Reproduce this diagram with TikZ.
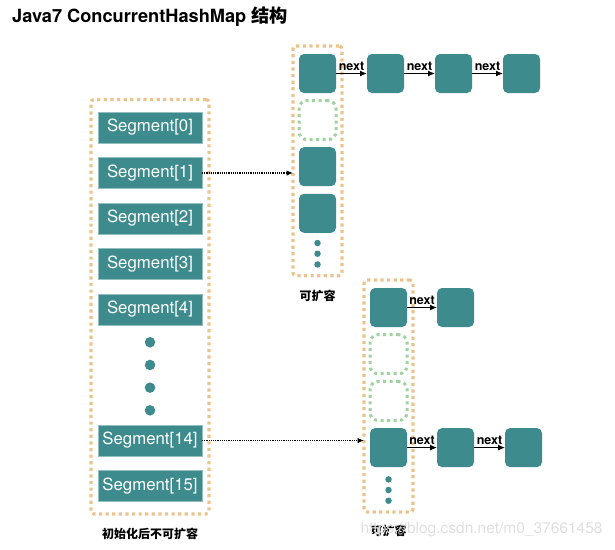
\documentclass[tikz,border=0pt]{standalone}
\usepackage{fontspec}
\setmainfont{TeX Gyre Heros}
\newfontfamily\cjk{Noto Sans CJK SC}
\usetikzlibrary{positioning,fit,arrows.meta}

\definecolor{segteal}{HTML}{3D8B8C}
\definecolor{bucketorange}{HTML}{EBC38C}
\definecolor{emptygreen}{HTML}{A0D2A0}

\tikzset{
  segment/.style={fill=segteal, draw=segteal!55!white, line width=0.6pt, outer sep=0pt,
    minimum width=104pt, minimum height=31pt, inner sep=0pt, text=white,
    font=\fontsize{16.8}{18}\selectfont},
  entry/.style={fill=segteal, rounded corners=5pt, outer sep=0pt,
    minimum width=37pt, minimum height=39pt, inner sep=0pt},
  emptyentry/.style={draw=emptygreen, line width=3pt, dash pattern=on 3pt off 3.5pt,
    rounded corners=8pt, outer sep=0pt, minimum width=37pt, minimum height=39pt, inner sep=0pt},
  bucket/.style={draw=bucketorange, line width=3.2pt, dash pattern=on 3.2pt off 3.4pt,
    rounded corners=3pt, outer sep=0pt},
  bigdot/.style={circle, fill=segteal, minimum size=10.5pt, inner sep=0pt, outer sep=0pt},
  smalldot/.style={circle, fill=segteal, minimum size=6.5pt, inner sep=0pt, outer sep=0pt},
  nextlink/.style={-{Latex[length=7pt,width=6pt]}, line width=1.1pt},
  nextlabel/.style={above, inner sep=2pt, font=\bfseries\fontsize{12.5}{12}\selectfont},
  pointer/.style={-{Latex[length=6.5pt,width=5.5pt]}, line width=1.1pt, dash pattern=on 1.1pt off 1.1pt},
  caption/.style={inner sep=0pt, font=\cjk\bfseries\fontsize{12}{12}\selectfont},
}

\begin{document}
\begin{tikzpicture}[x=1pt, y=-1pt]
  \useasboundingbox (0,0) rectangle (615,549);

  \node [anchor=base west, inner sep=0pt, font=\bfseries\fontsize{18.2}{18}\selectfont]
    (title) at (12,22) {Java7 ConcurrentHashMap {\cjk 结构}};

  % segment array, fixed size
  \node [segment] (s0) at (150,127.5) {Segment[0]};
  \node [segment, below=14.5pt of s0] (s1) {Segment[1]};
  \node [segment, below=14.5pt of s1] (s2) {Segment[2]};
  \node [segment, below=14.5pt of s2] (s3) {Segment[3]};
  \node [segment, below=14.5pt of s3] (s4) {Segment[4]};
  \node [bigdot, below=12pt of s4] (d1) {};
  \node [bigdot, below=12.2pt of d1] (d2) {};
  \node [bigdot, below=12.2pt of d2] (d3) {};
  \node [bigdot, below=12.2pt of d3] (d4) {};
  \node [segment, below=9.4pt of d4] (s14) {Segment[14]};
  \node [segment, below=14.5pt of s14] (s15) {Segment[15]};
  \node [bucket, inner xsep=7pt, inner ysep=12.5pt, fit=(s0)(s15)] (lbox) {};
  \node [caption, below=13.5pt of lbox] (lcap) {初始化后不可扩容};

  % table of Segment[1]
  \node [entry] (t0) at (317.5,73.5) {};
  \node [emptyentry, below=7.6pt of t0] (t1) {};
  \node [entry, below=7.6pt of t1] (t2) {};
  \node [entry, below=7.6pt of t2] (t3) {};
  \node [smalldot, below=7pt of t3] (td1) {};
  \node [smalldot, below=4.2pt of td1] (td2) {};
  \node [smalldot, below=4.2pt of td2] (td3) {};
  \node [bucket, inner xsep=6pt, inner ysep=8pt, fit=(t0)(td3)] (tbox) {};
  \node [caption, below=14pt of tbox] (tcap) {可扩容};

  \node [entry, right=31pt of t0] (n1) {};
  \node [entry, right=31pt of n1] (n2) {};
  \node [entry, right=31pt of n2] (n3) {};

  % table of Segment[14]
  \node [entry] (b0) at (388.5,307.5) {};
  \node [emptyentry, below=7.7pt of b0] (b1) {};
  \node [emptyentry, below=7.7pt of b1] (b2) {};
  \node [entry, below=7.7pt of b2] (b3) {};
  \node [smalldot, below=9pt of b3] (bd1) {};
  \node [smalldot, below=4.2pt of bd1] (bd2) {};
  \node [smalldot, below=4.2pt of bd2] (bd3) {};
  \node [bucket, inner xsep=6pt, inner ysep=8pt, fit=(b0)(bd3)] (bbox) {};
  \node [caption, below=13pt of bbox] (bcap) {可扩容};

  \node [entry, right=30pt of b0] (m1) {};
  \node [entry, right=30pt of b3] (m2) {};
  \node [entry, right=31pt of m2] (m3) {};

  \draw [pointer] (s1.east) -- (s1.east -| tbox.west);
  \draw [pointer] (s14.east) -- (s14.east -| bbox.west);

  \draw [nextlink] (t0) -- node [nextlabel] {next} (n1);
  \draw [nextlink] (n1) -- node [nextlabel] {next} (n2);
  \draw [nextlink] (n2) -- node [nextlabel] {next} (n3);
  \draw [nextlink] (b0) -- node [nextlabel] {next} (m1);
  \draw [nextlink] (b3) -- node [nextlabel] {next} (m2);
  \draw [nextlink] (m2) -- node [nextlabel] {next} (m3);

  \node [text=gray!25, font=\fontsize{15.5}{16}\selectfont] (mark) at (481.5,530)
    {https://blog.csdn.net/m0\_37661458};
\end{tikzpicture}
\end{document}
